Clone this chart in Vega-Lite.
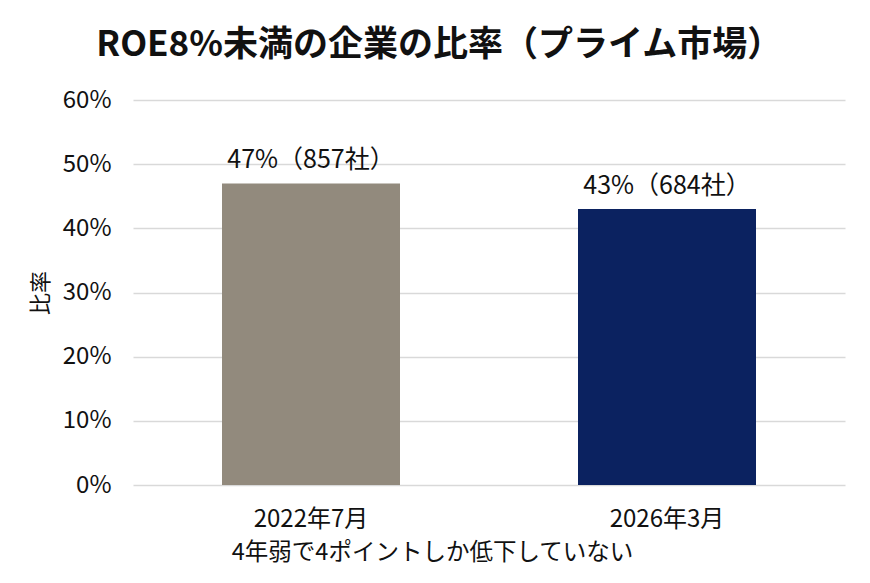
{
  "$schema": "https://vega.github.io/schema/vega-lite/v6.json",
  "autosize": {"type": "none"},
  "width": 712,
  "height": 385,
  "padding": {"left": 133, "top": 100, "right": 25, "bottom": 98},
  "background": "#ffffff",
  "title": {
    "text": "ROE8%未満の企業の比率（プライム市場）",
    "font": "Noto Sans CJK JP",
    "fontSize": 35,
    "fontWeight": "bold",
    "color": "#111111",
    "anchor": "start",
    "dx": 67,
    "offset": 25
  },
  "data": {
    "values": [
      {"period": "2022年7月", "ratio": 0.47, "label": "47%（857社）"},
      {"period": "2026年3月", "ratio": 0.43, "label": "43%（684社）"}
    ]
  },
  "config": {
    "view": {"stroke": null},
    "font": "Noto Sans CJK JP"
  },
  "encoding": {
    "x": {
      "field": "period",
      "type": "nominal",
      "sort": null,
      "scale": {"paddingInner": 0.5, "paddingOuter": 0.25},
      "axis": {
        "title": "4年弱で4ポイントしか低下していない",
        "titleFont": "Noto Sans CJK JP",
        "titleFontSize": 23.5,
        "titleFontWeight": "normal",
        "titleColor": "#111111",
        "titlePadding": 9,
        "titleX": 299,
        "titleAlign": "center",
        "labelFont": "Noto Sans CJK JP",
        "labelFontSize": 24,
        "labelColor": "#111111",
        "labelAngle": 0,
        "labelPadding": 22,
        "ticks": false,
        "domain": false
      }
    }
  },
  "layer": [
    {
      "mark": {"type": "bar"},
      "encoding": {
        "y": {
          "field": "ratio",
          "type": "quantitative",
          "scale": {"domain": [0, 0.6]},
          "axis": {
            "title": "比率",
            "titleFont": "Noto Sans CJK JP",
            "titleFontSize": 22,
            "titleFontWeight": "normal",
            "titleColor": "#111111",
            "titlePadding": 10,
            "format": ".0%",
            "values": [0, 0.1, 0.2, 0.3, 0.4, 0.5, 0.6],
            "labelFont": "Noto Sans CJK JP",
            "labelFontSize": 24,
            "labelColor": "#111111",
            "labelPadding": 22,
            "ticks": false,
            "domain": false,
            "grid": true,
            "gridColor": "#d9d9d9",
            "gridWidth": 1.5
          }
        },
        "color": {
          "field": "period",
          "type": "nominal",
          "scale": {"domain": ["2022年7月", "2026年3月"], "range": ["#928a7d", "#0b2260"]},
          "legend": null
        }
      }
    },
    {
      "mark": {"type": "text", "baseline": "bottom", "dy": -10, "fontSize": 25, "color": "#111111", "font": "Noto Sans CJK JP"},
      "encoding": {
        "y": {"field": "ratio", "type": "quantitative"},
        "text": {"field": "label"}
      }
    }
  ]
}
